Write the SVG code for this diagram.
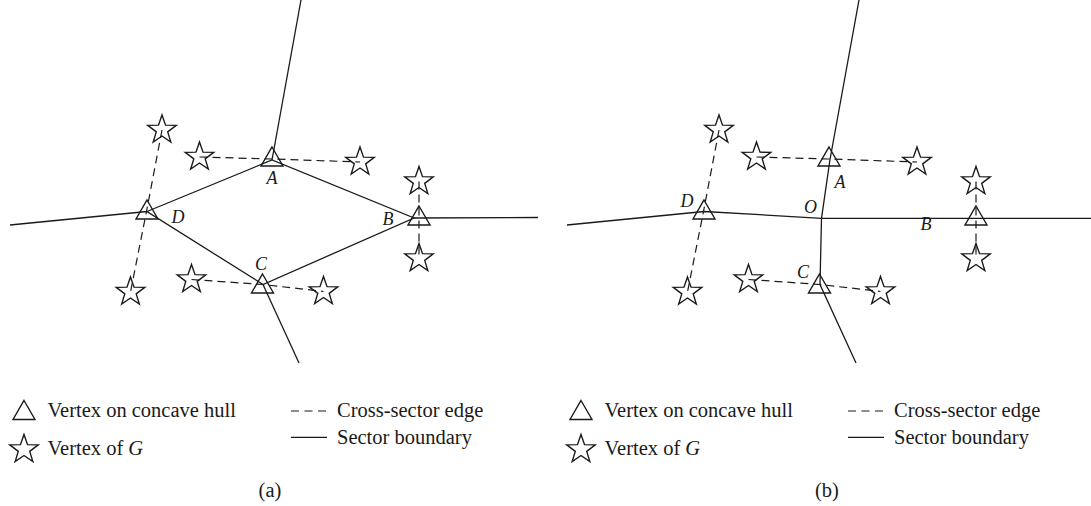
<svg xmlns="http://www.w3.org/2000/svg" xmlns:xlink="http://www.w3.org/1999/xlink" width="1091" height="506" viewBox="0 0 1091 506">
<style>
.ln{fill:none;stroke:#1a1a1a;stroke-width:1.3}
.ds{fill:none;stroke:#1a1a1a;stroke-width:1.2;stroke-dasharray:8 5}
.sh{fill:none;stroke:#1a1a1a;stroke-width:1.4;stroke-linejoin:miter}
.lb{font-family:"Liberation Serif",serif;font-style:italic;font-size:18px;fill:#1a1a1a;text-anchor:middle}
.lg{font-family:"Liberation Serif",serif;font-size:20.5px;fill:#1a1a1a}
.cap{font-family:"Liberation Serif",serif;font-size:20.5px;fill:#1a1a1a;text-anchor:middle}
</style>
<defs>
<path id="star" d="M0,-15 L3.527,-4.854 L14.266,-4.635 L5.706,1.854 L8.817,12.135 L0,6 L-8.817,12.135 L-5.706,1.854 L-14.266,-4.635 L-3.527,-4.854 Z"/>
<path id="tri" d="M0,-12.5 L11,6.5 L-11,6.5 Z"/>
</defs>
<rect width="1091" height="506" fill="#fff"/>

<!-- connectors -->
<g id="connectors">
<!-- panel a sector boundaries -->
<polyline class="ln" points="301,0 272,160"/>
<polyline class="ln" points="10,225 147,211.5"/>
<polyline class="ln" points="414,218 538,217.5"/>
<polyline class="ln" points="263,284.5 299,363"/>
<polygon class="ln" points="147,211.5 272,160 414,218 263,284.5"/>
<!-- panel a cross-sector edges -->
<polyline class="ds" points="162,130 146.5,211.5 130.5,292"/>
<polyline class="ds" points="199.5,157 272,159 360,162"/>
<polyline class="ds" points="419,181.5 419,258.5"/>
<polyline class="ds" points="191.5,279.5 263,284.5 323.5,291.5"/>
<!-- panel b sector boundaries -->
<polyline class="ln" points="567,225 704,211.5 821.5,218.3 1091,218.3"/>
<polyline class="ln" points="859,0 830,159.5 821.5,218.3 820,284.5 856,363"/>
<!-- panel b cross-sector edges -->
<polyline class="ds" points="719,130 703.5,211.5 687.5,292"/>
<polyline class="ds" points="756.5,157 829,159 917,162"/>
<polyline class="ds" points="976,181.5 976,258.5"/>
<polyline class="ds" points="748.5,279.5 820,284.5 880.5,291.5"/>
</g>

<!-- panel a nodes -->
<g id="a-A"><use href="#tri" class="sh" x="272" y="159.5"/><text class="lb" x="272" y="183.5">A</text></g>
<g id="a-B"><use href="#tri" class="sh" x="419" y="218.5"/><text class="lb" x="388" y="224.5">B</text></g>
<g id="a-C"><use href="#tri" class="sh" x="262.5" y="286.5"/><text class="lb" x="261" y="269.5">C</text></g>
<g id="a-D"><use href="#tri" class="sh" x="147" y="212.5"/><text class="lb" x="178" y="222.5">D</text></g>
<g id="a-s1"><use href="#star" class="sh" x="162" y="130"/></g>
<g id="a-s2"><use href="#star" class="sh" x="199.5" y="157"/></g>
<g id="a-s3"><use href="#star" class="sh" x="360" y="162"/></g>
<g id="a-s4"><use href="#star" class="sh" x="419" y="181.5"/></g>
<g id="a-s5"><use href="#star" class="sh" x="419" y="258.5"/></g>
<g id="a-s6"><use href="#star" class="sh" x="191.5" y="279.5"/></g>
<g id="a-s7"><use href="#star" class="sh" x="323.5" y="291.5"/></g>
<g id="a-s8"><use href="#star" class="sh" x="130.5" y="292"/></g>

<!-- panel b nodes -->
<g id="b-A"><use href="#tri" class="sh" x="829" y="159.5"/><text class="lb" x="840" y="187.5">A</text></g>
<g id="b-B"><use href="#tri" class="sh" x="976" y="218.5"/><text class="lb" x="926" y="229.5">B</text></g>
<g id="b-C"><use href="#tri" class="sh" x="819.5" y="286.5"/><text class="lb" x="803" y="277.5">C</text></g>
<g id="b-D"><use href="#tri" class="sh" x="704" y="212.5"/><text class="lb" x="687" y="206.5">D</text></g>
<g id="b-O"><text class="lb" x="810.5" y="212.5">O</text></g>
<g id="b-s1"><use href="#star" class="sh" x="719" y="130"/></g>
<g id="b-s2"><use href="#star" class="sh" x="756.5" y="157"/></g>
<g id="b-s3"><use href="#star" class="sh" x="917" y="162"/></g>
<g id="b-s4"><use href="#star" class="sh" x="976" y="181.5"/></g>
<g id="b-s5"><use href="#star" class="sh" x="976" y="258.5"/></g>
<g id="b-s6"><use href="#star" class="sh" x="748.5" y="279.5"/></g>
<g id="b-s7"><use href="#star" class="sh" x="880.5" y="291.5"/></g>
<g id="b-s8"><use href="#star" class="sh" x="687.5" y="292"/></g>

<!-- legend a -->
<g id="legend-a">
<use href="#tri" class="sh" x="24" y="413"/>
<text class="lg" x="47.5" y="417">Vertex on concave hull</text>
<use href="#star" class="sh" x="24" y="449.5"/>
<text class="lg" x="47.5" y="455">Vertex of <tspan font-style="italic">G</tspan></text>
<line class="ds" x1="291" y1="411" x2="327" y2="411" style="stroke-dasharray:8 5.5"/>
<text class="lg" x="337" y="417">Cross-sector edge</text>
<line class="ln" x1="291" y1="437.3" x2="327" y2="437.3"/>
<text class="lg" x="337" y="443.5">Sector boundary</text>
<text class="cap" x="270" y="497">(a)</text>
</g>
<!-- legend b -->
<g id="legend-b">
<use href="#tri" class="sh" x="581" y="413"/>
<text class="lg" x="604.5" y="417">Vertex on concave hull</text>
<use href="#star" class="sh" x="581" y="449.5"/>
<text class="lg" x="604.5" y="455">Vertex of <tspan font-style="italic">G</tspan></text>
<line class="ds" x1="848" y1="411" x2="884" y2="411" style="stroke-dasharray:8 5.5"/>
<text class="lg" x="894" y="417">Cross-sector edge</text>
<line class="ln" x1="848" y1="437.3" x2="884" y2="437.3"/>
<text class="lg" x="894" y="443.5">Sector boundary</text>
<text class="cap" x="827" y="497">(b)</text>
</g>
</svg>
